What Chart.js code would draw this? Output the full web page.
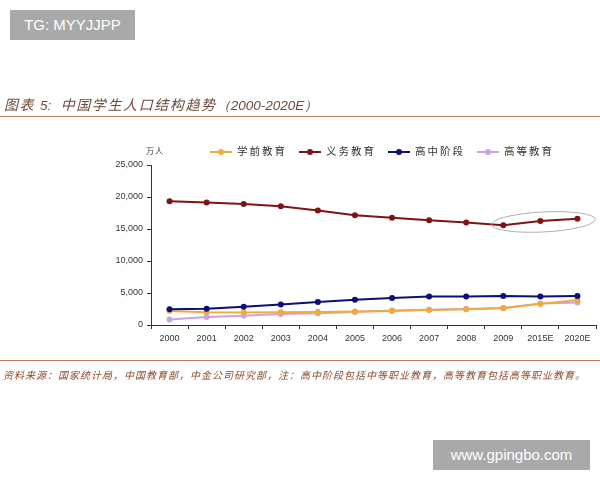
<!DOCTYPE html>
<html>
<head>
<meta charset="utf-8">
<script src="https://cdn.jsdelivr.net/npm/chart.js@4"></script>
<style>
  body { margin: 0; background: #fff; width: 600px; height: 480px; position: relative; overflow: hidden; font-family: Arial, "Liberation Sans", sans-serif; }
  #wrap { position: absolute; left: 0; top: 0; width: 600px; height: 480px; }
  .mark { position: absolute; background: #a9a9a9; color: #fff; font-size: 15px; line-height: 30px; text-align: center; }
  #title { position: absolute; left: 4px; top: 94px; font-size: 14px; color: #6e4a3a; font-style: italic; font-family: "Noto Sans CJK SC", sans-serif; white-space: nowrap; letter-spacing: 1.6px; }
  #title .n { font-family: Arial, "Liberation Sans", sans-serif; letter-spacing: 0; font-size: 13.5px; }
  #rule1 { position: absolute; left: 0; top: 116px; width: 600px; height: 1px; background: #b87a5a; }
  #rule2 { position: absolute; left: 0; top: 360px; width: 600px; height: 1px; background: #b87a5a; }
  #note { position: absolute; left: 3px; top: 367px; font-size: 10px; color: #8a4a2a; font-style: italic; font-family: "Noto Sans CJK SC", sans-serif; white-space: nowrap; letter-spacing: 1px; }
  #unit { position: absolute; left: 146px; top: 145px; font-size: 8px; color: #333; font-family: "Noto Sans CJK SC", sans-serif; letter-spacing: 1px; }
  #legend { position: absolute; left: 210px; top: 143px; font-size: 10.5px; color: #333; font-family: "Noto Sans CJK SC", sans-serif; white-space: nowrap; }
  .item { display: inline-block; margin-right: 12px; letter-spacing: 2px; }
  .sw { display: inline-block; position: relative; width: 22px; height: 2px; vertical-align: middle; margin-right: 5px; }
  .sw i { position: absolute; left: 8px; top: -2px; width: 6px; height: 6px; border-radius: 50%; }
</style>
</head>
<body>
<div id="wrap"><canvas id="chart" width="600" height="480"></canvas></div>
<div class="mark" style="left:10px;top:10px;width:125px;">TG: MYYJJPP</div>
<div class="mark" style="left:433px;top:440px;width:157px;">www.gpingbo.com</div>
<div id="title">图表 <span class="n">5:</span>&nbsp; 中国学生人口结构趋势<span class="n">（2000-2020E）</span></div>
<div id="rule1"></div>
<div id="unit">万人</div>
<div id="legend"></div>
<div id="rule2"></div>
<div id="note">资料来源：国家统计局，中国教育部，中金公司研究部，注：高中阶段包括中等职业教育，高等教育包括高等职业教育。</div>
<script>
const years = ["2000", "2001", "2002", "2003", "2004", "2005", "2006", "2007", "2008", "2009", "2015E", "2020E"];
const seriesNames = ["学前教育", "义务教育", "高中阶段", "高等教育"];
const preschool = [2200, 2000, 1950, 2000, 2050, 2100, 2200, 2350, 2450, 2600, 3300, 3900];
const compulsory = [19350, 19150, 18900, 18550, 17900, 17150, 16750, 16350, 16000, 15600, 16250, 16600];
const highSchool = [2450, 2550, 2850, 3200, 3600, 3950, 4200, 4450, 4450, 4550, 4450, 4550];
const higherEd = [850, 1250, 1450, 1700, 1850, 2050, 2250, 2400, 2500, 2650, 3350, 3500];
const yTicks = [0, 5000, 10000, 15000, 20000, 25000];
const colors = ["#f2aa3a", "#7e1416", "#0e0e78", "#c9a3e6"];

const allSeries = [preschool, compulsory, highSchool, higherEd];

// legend in html
const legend = document.getElementById("legend");
seriesNames.forEach((name, i) => {
    legend.innerHTML += `<span class="item"><span class="sw" style="background:${colors[i]}"><i style="background:${colors[i]}"></i></span>${name}</span>`;
});

// ellipse around forecast part of compulsory line
const ellipsePlugin = {
    id: "ellipse",
    afterDatasetsDraw(chart) {
        const x = chart.scales.x, y = chart.scales.y;
        const step = x.getPixelForValue(1) - x.getPixelForValue(0);
        const cx = x.getPixelForValue(10) + 3;
        const cy = y.getPixelForValue(16100);
        const ctx = chart.ctx;
        ctx.save();
        ctx.strokeStyle = "#b0b0b0";
        ctx.lineWidth = 1;
        ctx.beginPath();
        ctx.ellipse(cx, cy, step * 1.4, 10, -0.05, 0, Math.PI * 2);
        ctx.stroke();
        ctx.restore();
    }
};

new Chart(document.getElementById("chart"), {
    type: "line",
    data: {
        labels: years,
        datasets: allSeries.map((data, i) => ({
            label: seriesNames[i],
            data: data,
            borderColor: colors[i],
            backgroundColor: colors[i],
            borderWidth: 2,
            pointRadius: 3,
            pointBorderWidth: 0,
            tension: 0,
            order: [2, 0, 1, 3][i]
        }))
    },
    options: {
        responsive: false,
        animation: false,
        layout: { padding: { top: 165, right: 2, left: 0, bottom: 0 } },
        plugins: {
            legend: { display: false },
            tooltip: { enabled: false }
        },
        scales: {
            x: {
                offset: true,
                afterFit: s => { s.height = 155; },
                grid: { display: true, drawOnChartArea: false, offset: true, color: "#333", tickLength: 4 },
                border: { color: "#333", width: 1 },
                ticks: { color: "#333", font: { size: 9, family: "Arial" }, padding: 4, maxRotation: 0, autoSkip: false }
            },
            y: {
                min: 0,
                max: 25000,
                afterFit: s => { s.width = 151; },
                afterBuildTicks: s => { s.ticks = yTicks.map(v => ({ value: v })); },
                grid: { display: true, drawOnChartArea: false, color: "#333", tickLength: 4 },
                border: { color: "#333", width: 1 },
                ticks: {
                    color: "#333",
                    font: { size: 9, family: "Arial" },
                    padding: 4,
                    callback: v => v.toLocaleString("en-US")
                }
            }
        }
    },
    plugins: [ellipsePlugin]
});
</script>
</body>
</html>
